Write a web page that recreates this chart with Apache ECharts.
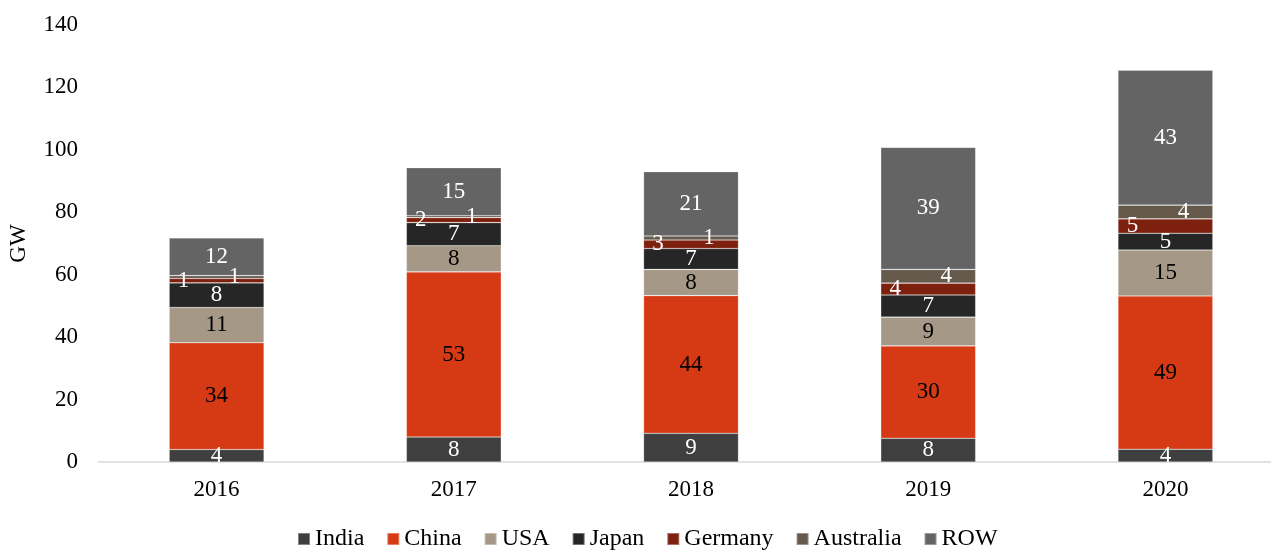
<!DOCTYPE html>
<html>
<head>
<meta charset="utf-8">
<script src="https://cdn.jsdelivr.net/npm/echarts@6/dist/echarts.min.js"></script>
<style>
  html, body { margin: 0; padding: 0; background: #fff; }
  #chart { width: 1271px; height: 553px; }
</style>
</head>
<body>
<div id="chart"></div>
<script>
// values (labels show rounded numbers)
const years = ['2016', '2017', '2018', '2019', '2020'];
const india = [4.0, 8.0, 9.2, 7.6, 4.1];
const china = [34.2, 52.9, 44.1, 29.6, 49.1];
const usa = [11.3, 8.4, 8.4, 9.2, 14.7];
const japan = [7.9, 7.4, 6.7, 7.1, 5.4];
const germany = [1.4, 1.6, 2.7, 3.8, 4.6];
const australia = [0.9, 0.6, 1.3, 4.4, 4.4];
const row = [12.1, 15.4, 20.6, 39.1, 43.2];
const yTicks = [0, 20, 40, 60, 80, 100, 120, 140];

const FONT = '"Liberation Serif", "Times New Roman", serif';
const FS = 23;

function seg(name, data, color, labelColor, offset) {
    return {
        name: name,
        type: 'bar',
        stack: 'total',
        data: data,
        barWidth: '40%',
        itemStyle: {
            color: color,
            borderColor: 'rgba(255,255,255,0.35)',
            borderWidth: 0.6
        },
        label: {
            show: true,
            position: 'inside',
            offset: offset || [0, 0],
            color: labelColor,
            fontFamily: FONT,
            fontSize: FS,
            formatter: p => Math.round(p.value)
        },
        emphasis: { disabled: true }
    };
}

const chart = echarts.init(document.getElementById('chart'));
chart.setOption({
    animation: false,
    textStyle: { fontFamily: FONT },
    grid: { left: 98, top: 25, width: 1186, bottom: 91, outerBoundsMode: 'none' },
    legend: {
        bottom: -3,
        left: 292,
        itemWidth: 12,
        itemHeight: 12,
        itemGap: 22,
        icon: 'rect',
        textStyle: { fontFamily: FONT, fontSize: 24, color: '#000' },
        data: ['India', 'China', 'USA', 'Japan', 'Germany', 'Australia', 'ROW']
    },
    xAxis: {
        type: 'category',
        data: years,
        axisLine: { lineStyle: { color: '#d9d9d9', width: 1.5 } },
        axisTick: { show: false },
        axisLabel: { color: '#000', fontFamily: FONT, fontSize: FS, margin: 16 }
    },
    yAxis: {
        type: 'value',
        min: yTicks[0],
        max: yTicks[yTicks.length - 1],
        interval: 20,
        name: 'GW',
        nameLocation: 'middle',
        nameGap: 68,
        nameRotate: 90,
        nameTextStyle: { color: '#000', fontFamily: FONT, fontSize: FS },
        axisLine: { show: false },
        axisTick: { show: false },
        splitLine: { show: false },
        axisLabel: { color: '#000', fontFamily: FONT, fontSize: FS, margin: 20 }
    },
    series: [
        seg('India', india, '#3f3f3f', '#fff'),
        seg('China', china, '#d63a14', '#000'),
        seg('USA', usa, '#a69886', '#000'),
        seg('Japan', japan, '#262626', '#fff'),
        seg('Germany', germany, '#7e200e', '#fff', [-33, 0]),
        seg('Australia', australia, '#665a4c', '#fff', [18, 0]),
        seg('ROW', row, '#646464', '#fff')
    ]
});
</script>
</body>
</html>
